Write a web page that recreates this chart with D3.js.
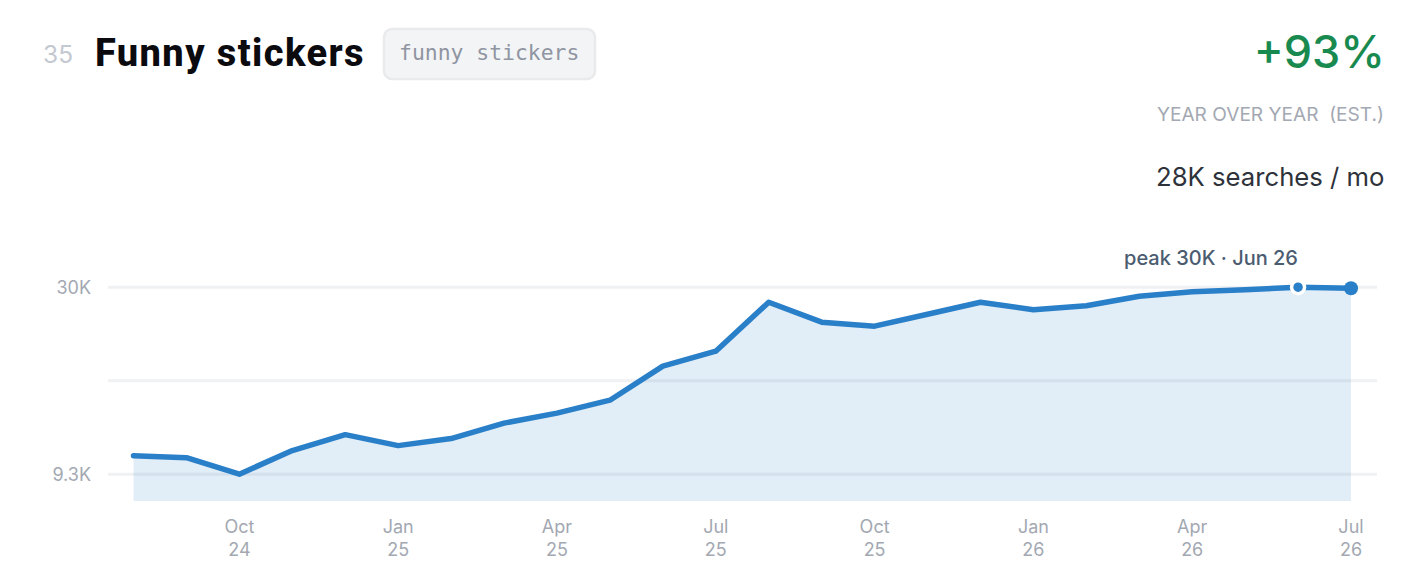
<!DOCTYPE html>
<html><head><meta charset="utf-8">
<script src="https://cdn.jsdelivr.net/npm/d3@7"></script>
<style>html,body{margin:0;padding:0;background:#fff}svg{display:block}text{font-family:Inter,sans-serif}</style>
</head><body><svg id="c" width="1420" height="570"></svg>
<script>
const months=["Aug 24","Sep 24","Oct 24","Nov 24","Dec 24","Jan 25","Feb 25","Mar 25","Apr 25","May 25","Jun 25","Jul 25","Aug 25","Sep 25","Oct 25","Nov 25","Dec 25","Jan 26","Feb 26","Mar 26","Apr 26","May 26","Jun 26","Jul 26"];
const searches=[10440,10310,9300,10780,11910,11120,11620,12800,13630,14780,18290,20090,27300,24100,23500,25330,27300,26060,26720,28360,29170,29530,30000,29810];
const tickMonths=["Oct 24","Jan 25","Apr 25","Jul 25","Oct 25","Jan 26","Apr 26","Jul 26"];
const gridValues=[30000,16700,9300];
const gridLabels=["30K","","9.3K"];
const peakMonth="Jun 26";

const svg=d3.select("#c");
const x=d3.scalePoint().domain(months).range([133.5,1351]);
const y=d3.scaleLog().domain([7850,30000]).range([501.2,287.2]);

svg.selectAll("line.g").data(gridValues).join("line").attr("class","g")
 .attr("x1",108).attr("x2",1377).attr("y1",d=>y(d)).attr("y2",d=>y(d))
 .attr("stroke","#f0f1f3").attr("stroke-width",3);
svg.selectAll("text.yl").data(gridValues).join("text").attr("class","yl")
 .attr("x",91).attr("y",d=>y(d)+6.8).attr("text-anchor","end")
 .attr("font-size",18).attr("fill","#a3a8b2").text((d,i)=>gridLabels[i]);

const area=d3.area().x((d,i)=>x(months[i])).y0(501).y1(d=>y(d));
svg.append("path").datum(searches).attr("d",area).attr("fill","#2a7fc9").attr("fill-opacity",.14);
const line=d3.line().x((d,i)=>x(months[i])).y(d=>y(d));
svg.append("path").datum(searches).attr("d",line).attr("fill","none").attr("stroke","#2a7fc9")
 .attr("stroke-width",5.5).attr("stroke-linecap","round").attr("stroke-linejoin","round");

const tl=svg.selectAll("g.t").data(tickMonths).join("g").attr("class","t")
 .attr("transform",d=>`translate(${x(d)},0)`);
tl.append("text").attr("y",533).attr("text-anchor","middle").attr("font-size",18).attr("fill","#a3a8b2").text(d=>d.split(" ")[0]);
tl.append("text").attr("y",555.5).attr("text-anchor","middle").attr("font-size",18).attr("fill","#a3a8b2").text(d=>d.split(" ")[1]);

const pi=months.indexOf(peakMonth);
svg.append("circle").attr("cx",x(peakMonth)).attr("cy",y(searches[pi])).attr("r",6.5).attr("fill","#2a7fc9").attr("stroke","#fff").attr("stroke-width",3.5);
svg.append("circle").attr("cx",x(months[23])).attr("cy",y(searches[23])).attr("r",7).attr("fill","#2a7fc9");
svg.append("text").attr("x",1211).attr("y",265).attr("text-anchor","middle").attr("font-size",20).attr("font-weight",450).attr("fill","#4b5c70").text("peak 30K · Jun 26");

svg.append("text").attr("x",43).attr("y",63).attr("font-size",24.5).attr("fill","#c4c8d0").text("35");
svg.append("text").attr("x",95).attr("y",66).attr("font-size",38).attr("font-weight",800).attr("letter-spacing",1.4).attr("fill","#0b0b0f").style("font-family","Roboto").text("Funny stickers");
svg.append("rect").attr("x",384).attr("y",29).attr("width",211).attr("height",50).attr("rx",8).attr("fill","#f3f4f6").attr("stroke","#e9eaec").attr("stroke-width",2.5);
svg.append("text").attr("x",399).attr("y",60).attr("font-size",21.4).attr("fill","#8f95a1").style("font-family","'DejaVu Sans Mono'").text("funny stickers");

svg.append("text").attr("x",1385).attr("y",68).attr("text-anchor","end").attr("font-size",45).attr("font-weight",500).attr("fill","#198a4f").text("+93%");
svg.append("text").attr("x",1384).attr("y",121).attr("text-anchor","end").attr("font-size",19.1).attr("fill","#a3a8b2").attr("xml:space","preserve").text("YEAR OVER YEAR  (EST.)");
svg.append("text").attr("x",1384.5).attr("y",186).attr("text-anchor","end").attr("font-size",25.7).attr("fill","#2e323a").text("28K searches / mo");
</script></body></html>
